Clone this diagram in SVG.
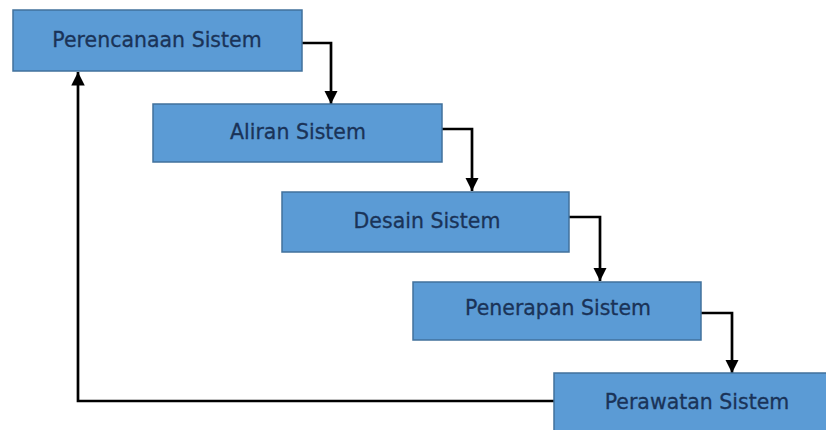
<svg xmlns="http://www.w3.org/2000/svg" width="826" height="430" viewBox="0 0 826 430">
<style>
.box{fill:#5b9bd5;stroke:#41719c;stroke-width:1.5}
.lbl{font-family:"DejaVu Sans",sans-serif;font-size:20.5px;fill:#1a3358;stroke:#1a3358;stroke-width:0.3;text-anchor:middle;dominant-baseline:central}
.conn{fill:none;stroke:#000;stroke-width:2.7;marker-end:url(#arr)}
</style>
<defs>
<marker id="arr" viewBox="0 0 10 10" refX="10" refY="5" markerWidth="5" markerHeight="5" markerUnits="strokeWidth" orient="auto">
<path d="M0,0 L10,5 L0,10 z" fill="#000"/>
</marker>
</defs>
<rect width="826" height="430" fill="#fff"/>
<g id="connectors">
<path class="conn" d="M302,43 H331 V104"/>
<path class="conn" d="M442,129 H472 V191"/>
<path class="conn" d="M569,217 H600 V281"/>
<path class="conn" d="M701,313 H732 V373"/>
<path class="conn" d="M554,401 H78 V72"/>
</g>
<g id="n1"><rect class="box" x="13" y="10" width="289" height="61"/><text class="lbl" x="157" y="40">Perencanaan Sistem</text></g>
<g id="n2"><rect class="box" x="153" y="104" width="289" height="58"/><text class="lbl" x="298" y="132">Aliran Sistem</text></g>
<g id="n3"><rect class="box" x="282" y="192" width="287" height="60"/><text class="lbl" x="427" y="221">Desain Sistem</text></g>
<g id="n4"><rect class="box" x="413" y="282" width="288" height="58"/><text class="lbl" x="558" y="308">Penerapan Sistem</text></g>
<g id="n5"><rect class="box" x="554" y="373" width="280" height="60"/><text class="lbl" x="697" y="402">Perawatan Sistem</text></g>
</svg>
